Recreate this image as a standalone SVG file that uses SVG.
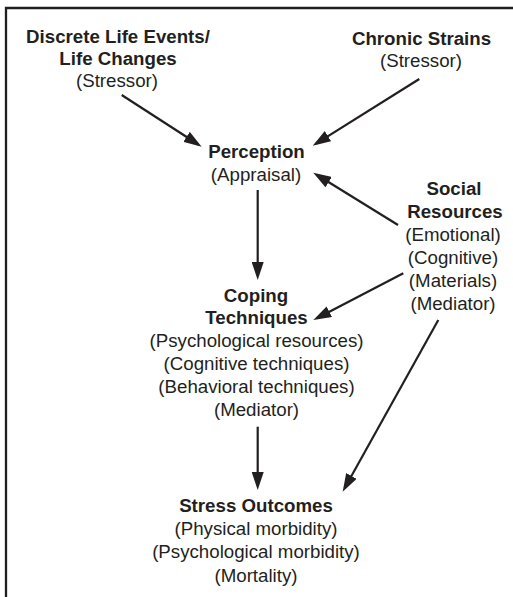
<svg xmlns="http://www.w3.org/2000/svg" width="513" height="597" viewBox="0 0 513 597">
<defs>
<style>
text{font-family:"Liberation Sans",Arial,Helvetica,sans-serif;font-size:18.7px;fill:#231f20;text-anchor:middle}
.b{font-weight:bold}
.c{stroke:#231f20;stroke-width:2.2;fill:none;marker-end:url(#ah)}
</style>
<marker id="ah" viewBox="0 0 18 12" refX="14" refY="6" markerWidth="18" markerHeight="12" markerUnits="userSpaceOnUse" orient="auto">
<path d="M0,0 L18,6 L0,12 Z" fill="#231f20"/>
</marker>
</defs>
<rect width="513" height="597" fill="#fff"/>
<path d="M6,597 V8 H513" fill="none" stroke="#231f20" stroke-width="2.3"/>
<g id="connectors">
<line class="c" x1="121.7" y1="95" x2="198.3" y2="144.5"/>
<line class="c" x1="419.3" y1="79" x2="316.1" y2="143.6"/>
<line class="c" x1="398" y1="225" x2="316.7" y2="174.8"/>
<line class="c" x1="257.7" y1="190" x2="257.7" y2="276"/>
<line class="c" x1="403.3" y1="273.3" x2="316.9" y2="318.2"/>
<line class="c" x1="438.3" y1="320" x2="344.6" y2="488.2"/>
<line class="c" x1="257.7" y1="426.7" x2="257.7" y2="486"/>
</g>
<g id="discrete">
<text class="b" x="118" y="42.5">Discrete Life Events/</text>
<text class="b" x="118" y="64.5">Life Changes</text>
<text x="117" y="86.5">(Stressor)</text>
</g>
<g id="chronic">
<text class="b" x="421.5" y="45">Chronic Strains</text>
<text x="421" y="67">(Stressor)</text>
</g>
<g id="perception">
<text class="b" x="256.5" y="157.5">Perception</text>
<text x="256" y="181">(Appraisal)</text>
</g>
<g id="social">
<text class="b" x="454" y="195">Social</text>
<text class="b" x="455" y="217.5">Resources</text>
<text x="453" y="241">(Emotional)</text>
<text x="453" y="264">(Cognitive)</text>
<text x="453" y="287">(Materials)</text>
<text x="453" y="310">(Mediator)</text>
</g>
<g id="coping">
<text class="b" x="256" y="301.5">Coping</text>
<text class="b" x="256.5" y="324">Techniques</text>
<text x="256.5" y="347">(Psychological resources)</text>
<text x="256.5" y="370">(Cognitive techniques)</text>
<text x="256.5" y="393">(Behavioral techniques)</text>
<text x="256.5" y="416">(Mediator)</text>
</g>
<g id="outcomes">
<text class="b" x="256" y="511.5">Stress Outcomes</text>
<text x="256" y="535">(Physical morbidity)</text>
<text x="256" y="558">(Psychological morbidity)</text>
<text x="256" y="581.5">(Mortality)</text>
</g>
</svg>
